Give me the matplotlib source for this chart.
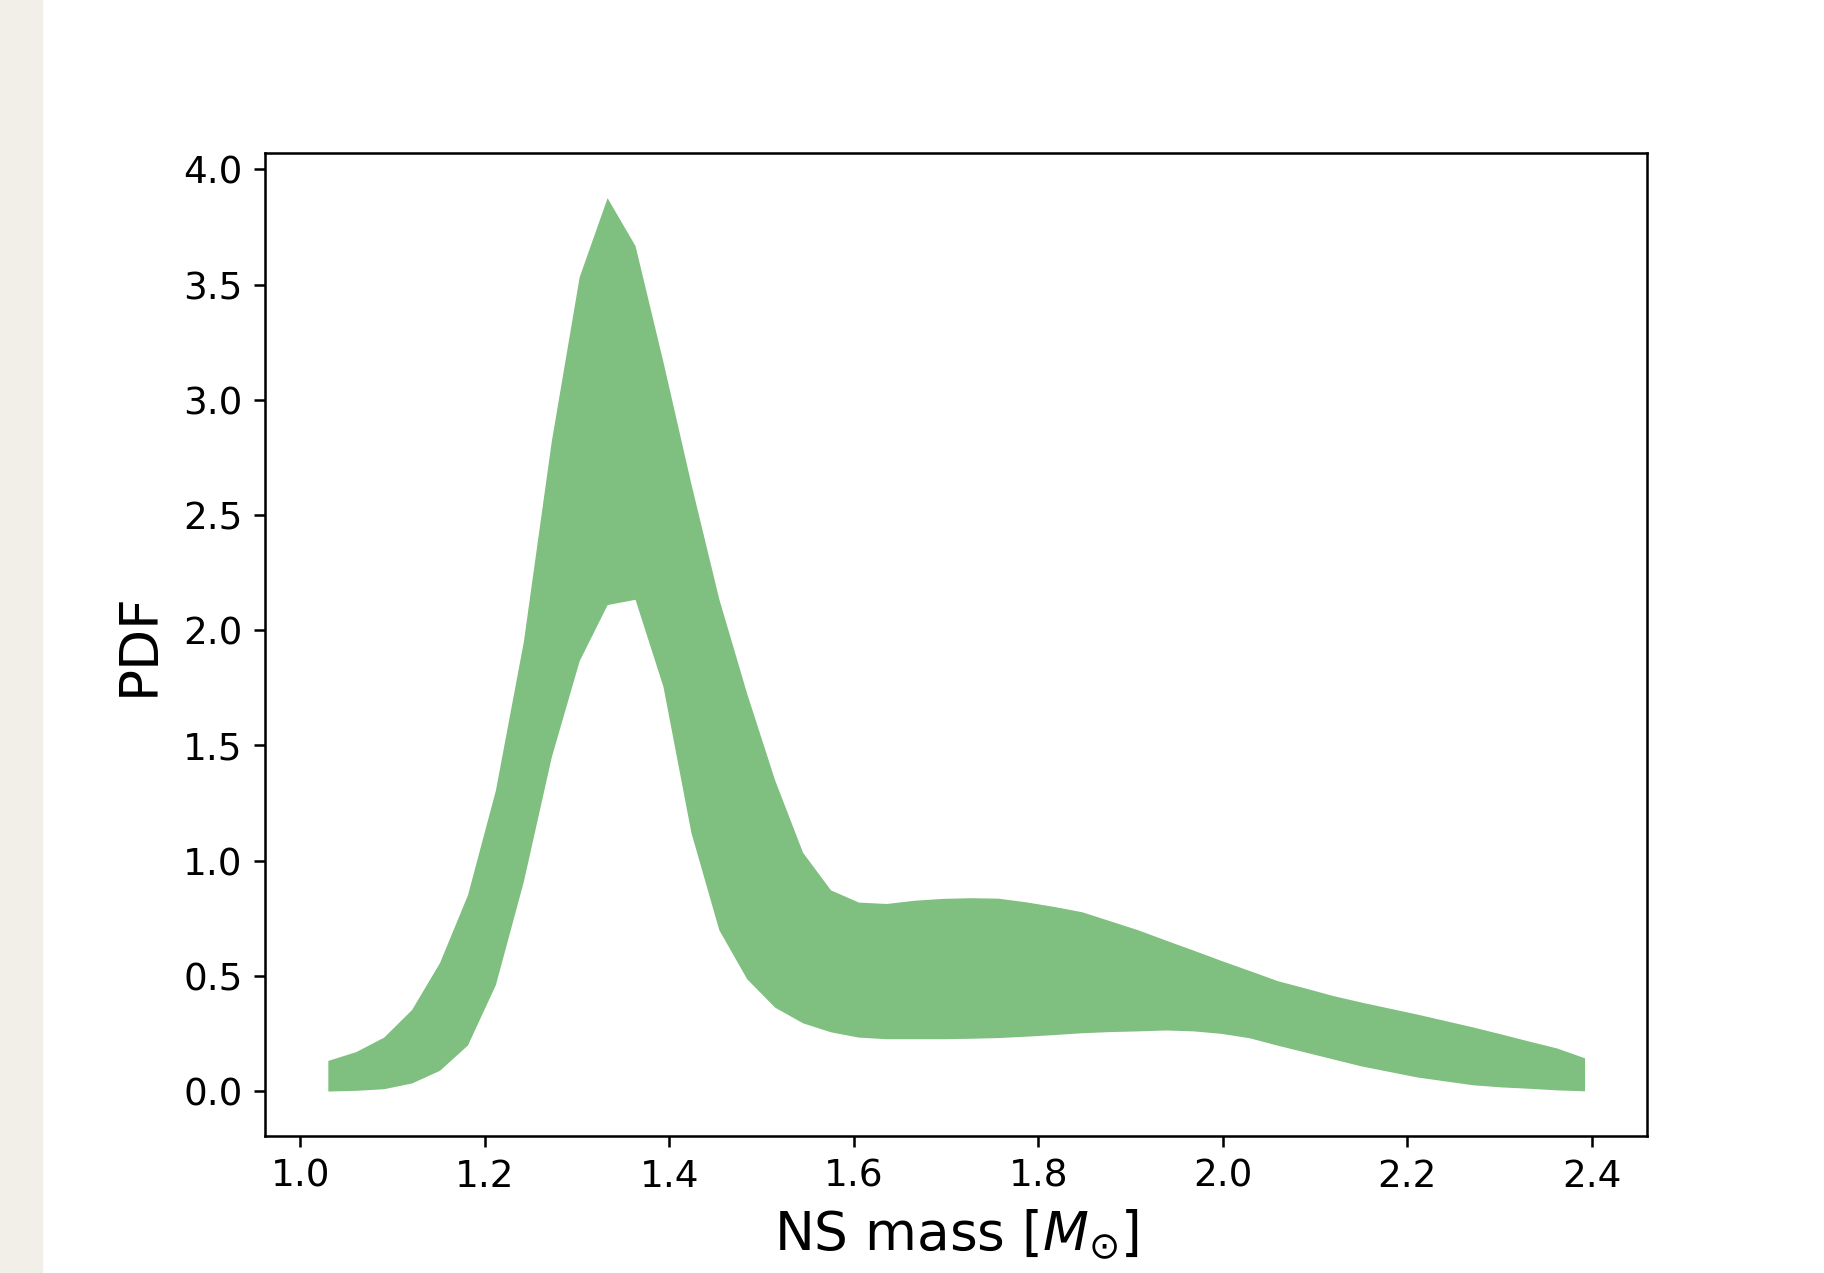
import matplotlib
matplotlib.use("Agg")
import matplotlib.pyplot as plt
import numpy as np

# NS 质量分布的置信带
mass = np.linspace(1.03, 2.392, 46)

pdf_upper = [
    0.133, 0.171, 0.234, 0.354, 0.558, 0.852, 1.306, 1.951, 2.820, 3.534,
    3.877, 3.669, 3.165, 2.636, 2.136, 1.725, 1.350, 1.036, 0.873, 0.820,
    0.814, 0.828, 0.836, 0.839, 0.837, 0.821, 0.801, 0.778, 0.739, 0.700,
    0.655, 0.611, 0.566, 0.523, 0.479, 0.447, 0.414, 0.386, 0.360, 0.334,
    0.306, 0.278, 0.248, 0.217, 0.187, 0.144,
]
pdf_lower = [
    0.000, 0.003, 0.010, 0.035, 0.090, 0.200, 0.462, 0.910, 1.450, 1.868,
    2.111, 2.134, 1.756, 1.123, 0.700, 0.487, 0.364, 0.296, 0.257, 0.234,
    0.227, 0.227, 0.227, 0.229, 0.232, 0.238, 0.245, 0.253, 0.258, 0.261,
    0.265, 0.261, 0.250, 0.231, 0.199, 0.169, 0.139, 0.109, 0.085, 0.061,
    0.044, 0.027, 0.018, 0.012, 0.005, 0.001,
]

fig = plt.figure(figsize=(1824 / 228, 1273 / 228), dpi=228)

# 左侧纸纹条
fig.patches.append(plt.Rectangle((0, 0), 41 / 1824, 1, transform=fig.transFigure,
                                 color="#f2efe8", zorder=0))

ax = fig.add_axes([265 / 1824, 1 - 1135.7 / 1273, (1647.4 - 265) / 1824, (1135.7 - 153) / 1273])
ax.fill_between(mass, pdf_lower, pdf_upper, color="green", alpha=0.5, linewidth=0)

ax.tick_params(labelsize=11.8)
ax.set_xlabel(r"NS mass [$M_{\odot}$]", fontsize=16.8)
ax.set_ylabel("PDF", fontsize=16.8, labelpad=6)

fig.savefig("out.png", dpi=228)
